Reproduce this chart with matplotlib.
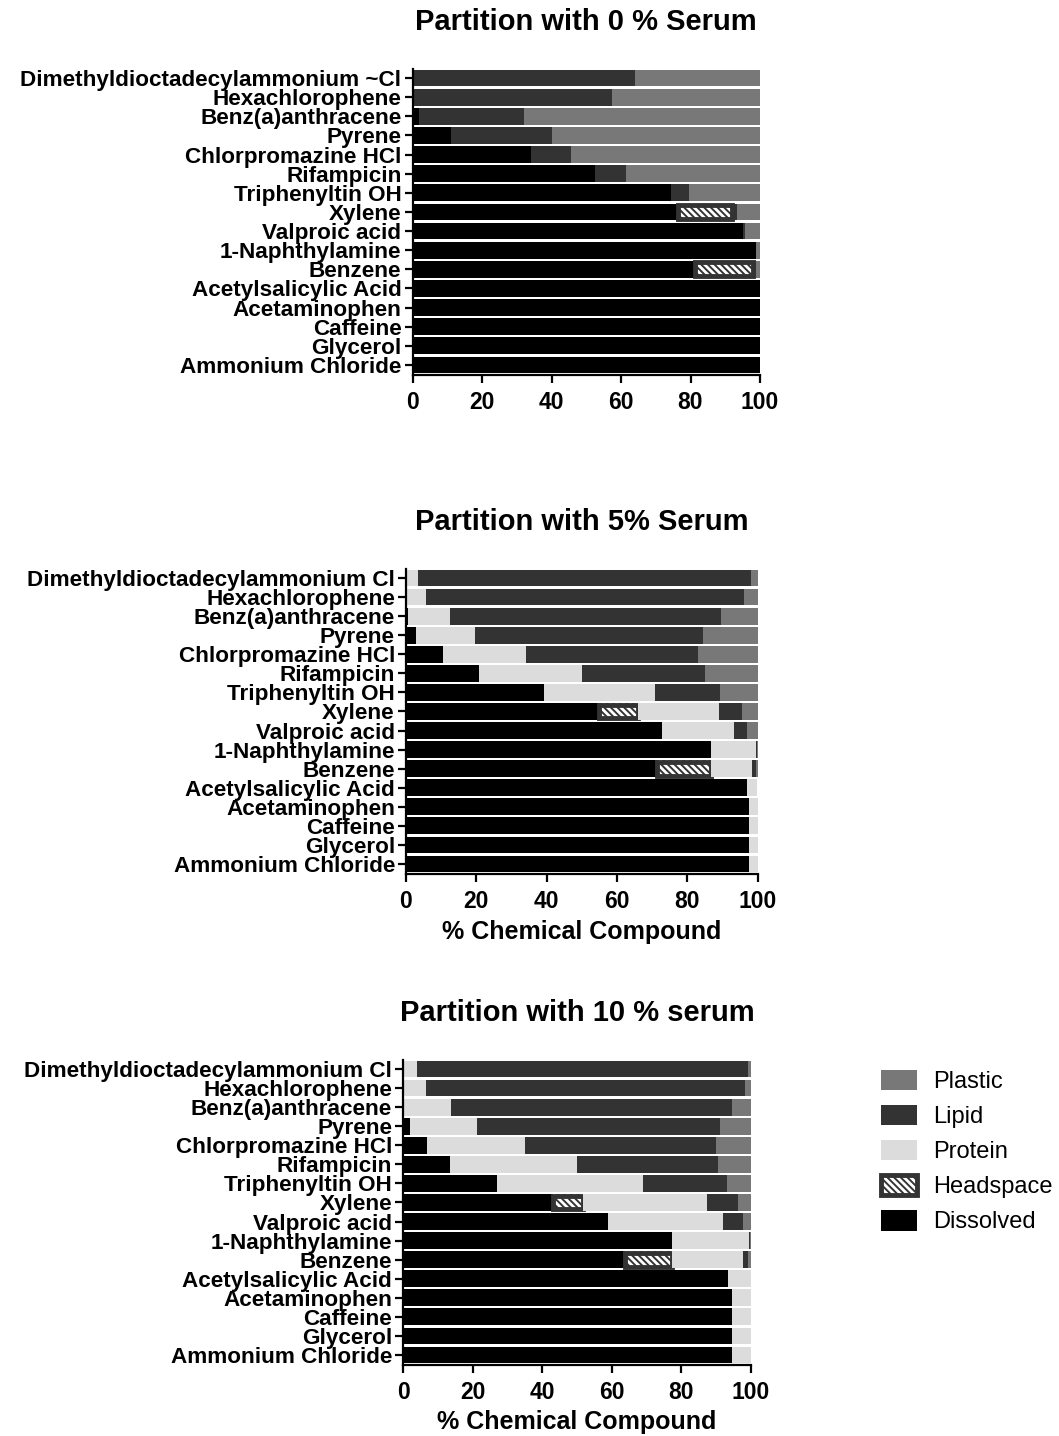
import matplotlib
matplotlib.use("Agg")
import matplotlib.pyplot as plt
from matplotlib.patches import Patch
import numpy as np

plt.rcParams['font.family'] = ['Liberation Sans', 'DejaVu Sans']
plt.rcParams['hatch.linewidth'] = 2.0

# Compounds, listed top to bottom
compounds_0 = ["Dimethyldioctadecylammonium ~Cl", "Hexachlorophene", "Benz(a)anthracene",
               "Pyrene", "Chlorpromazine HCl", "Rifampicin", "Triphenyltin OH", "Xylene",
               "Valproic acid", "1-Naphthylamine", "Benzene", "Acetylsalicylic Acid",
               "Acetaminophen", "Caffeine", "Glycerol", "Ammonium Chloride"]
compounds = ["Dimethyldioctadecylammonium Cl"] + compounds_0[1:]

# Partition (% of compound) with 0 % serum
dissolved_0 = [0.5, 0.5, 2.0, 11.0, 34.0, 52.5, 74.5, 76.5, 95.0, 98.8, 81.3, 100, 100, 100, 100, 100]
headspace_0 = [0, 0, 0, 0, 0, 0, 0, 15.5, 0, 0, 16.7, 0, 0, 0, 0, 0]
protein_0   = [0] * 16
lipid_0     = [63.5, 57.0, 30.0, 29.0, 11.5, 9.0, 5.0, 1.5, 0.7, 0.0, 0.8, 0, 0, 0, 0, 0]
plastic_0   = [36.0, 42.5, 68.0, 60.0, 54.5, 38.5, 20.5, 6.5, 4.3, 1.2, 1.2, 0, 0, 0, 0, 0]

# Partition with 5 % serum
dissolved_5 = [0.0, 0.0, 0.5, 2.8, 10.4, 20.8, 39.4, 55.0, 72.7, 86.8, 71.5, 97.1, 97.6, 97.6, 97.6, 97.6]
headspace_5 = [0, 0, 0, 0, 0, 0, 0, 10.9, 0, 0, 15.3, 0, 0, 0, 0, 0]
protein_5   = [3.3, 5.6, 12.0, 16.8, 23.6, 29.2, 31.3, 23.2, 20.7, 12.8, 11.5, 2.9, 2.4, 2.4, 2.4, 2.4]
lipid_5     = [94.8, 90.7, 77.1, 64.8, 49.2, 35.0, 18.6, 6.4, 3.7, 0.2, 1.2, 0, 0, 0, 0, 0]
plastic_5   = [1.9, 3.7, 10.4, 15.6, 16.8, 15.0, 10.7, 4.5, 2.9, 0.2, 0.5, 0, 0, 0, 0, 0]

# Partition with 10 % serum
dissolved_10 = [0.0, 0.0, 0.3, 1.9, 6.7, 13.4, 27.0, 43.1, 59.0, 77.2, 63.8, 93.5, 94.4, 94.4, 94.4, 94.4]
headspace_10 = [0, 0, 0, 0, 0, 0, 0, 8.7, 0, 0, 13.6, 0, 0, 0, 0, 0]
protein_10   = [3.8, 6.4, 13.4, 19.2, 28.3, 36.5, 42.0, 35.5, 33.0, 22.2, 20.2, 6.5, 5.6, 5.6, 5.6, 5.6]
lipid_10     = [95.4, 91.9, 80.7, 70.0, 54.8, 40.7, 24.0, 9.1, 5.8, 0.3, 1.6, 0, 0, 0, 0, 0]
plastic_10   = [0.8, 1.7, 5.6, 8.9, 10.2, 9.4, 7.0, 3.6, 2.2, 0.3, 0.8, 0, 0, 0, 0, 0]

x_ticks = [0, 20, 40, 60, 80, 100]

C_DIS, C_LIP, C_PRO, C_PLA = "#000000", "#333333", "#dcdcdc", "#787878"
HATCH = "\\" * 5

panels = [
    dict(rect=[412.5, 68.5, 760, 374.5], title="Partition with 0 % Serum", title_y=22,
         labels=compounds_0, data=(dissolved_0, headspace_0, protein_0, lipid_0, plastic_0), xlabel=None),
    dict(rect=[406, 568.5, 757.5, 873.5], title="Partition with 5% Serum", title_y=522,
         labels=compounds, data=(dissolved_5, headspace_5, protein_5, lipid_5, plastic_5), xlabel=932),
    dict(rect=[403.3, 1059.5, 751, 1364.5], title="Partition with 10 % serum", title_y=1013,
         labels=compounds, data=(dissolved_10, headspace_10, protein_10, lipid_10, plastic_10), xlabel=1422),
]

W, H = 1059, 1436
fig = plt.figure(figsize=(W / 100, H / 100), dpi=100)

for p in panels:
    x0, y0, x1, y1 = p["rect"]
    ax = fig.add_axes([x0 / W, 1 - y1 / H, (x1 - x0) / W, (y1 - y0) / H])
    dis, hs, pro, lip, pla = [np.array(v, dtype=float) for v in p["data"]]
    y = np.arange(len(p["labels"]))
    h = 0.88
    left = np.zeros(len(y))
    ax.barh(y, dis, left=left, height=h, color=C_DIS, linewidth=0)
    left += dis
    # headspace: white stripes inside a dark box
    mask = hs > 0
    ax.barh(y[mask], hs[mask], left=left[mask], height=h, facecolor=C_LIP,
            edgecolor="white", hatch=HATCH, linewidth=0)
    ax.barh(y[mask], hs[mask], left=left[mask], height=h * 0.82, fill=False,
            edgecolor=C_LIP, linewidth=3.5)
    left += hs
    ax.barh(y, pro, left=left, height=h, color=C_PRO, linewidth=0)
    left += pro
    ax.barh(y, lip, left=left, height=h, color=C_LIP, linewidth=0)
    left += lip
    ax.barh(y, pla, left=left, height=h, color=C_PLA, linewidth=0)

    ax.set_xlim(0, 100)
    ax.set_ylim(len(y) - 0.5, -0.5)
    ax.set_yticks(y)
    ax.set_yticklabels(p["labels"], fontsize=16.2, fontweight="bold")
    ax.set_xticks(x_ticks)
    ax.set_xticklabels([str(t) for t in x_ticks], fontsize=16.5, fontweight="bold")
    for s in ("top", "right"):
        ax.spines[s].set_visible(False)
    for s in ("left", "bottom"):
        ax.spines[s].set_linewidth(1.6)
    ax.tick_params(axis="both", length=6, width=1.6, direction="out")
    ax.tick_params(axis="y", pad=2)
    ax.tick_params(axis="x", pad=6)

    fig.text((x0 + x1) / 2 / W, 1 - p["title_y"] / H, p["title"], ha="center", va="center",
             fontsize=21, fontweight="bold")
    if p["xlabel"] is not None:
        fig.text((x0 + x1) / 2 / W, 1 - p["xlabel"] / H, "% Chemical Compound", ha="center",
                 va="center", fontsize=18, fontweight="bold")

handles = [
    Patch(facecolor=C_PLA, edgecolor="none"),
    Patch(facecolor=C_LIP, edgecolor="none"),
    Patch(facecolor=C_PRO, edgecolor="none"),
    (Patch(facecolor=C_LIP, edgecolor="white", hatch=HATCH, linewidth=0),
     Patch(fill=False, edgecolor=C_LIP, linewidth=3.5)),
    Patch(facecolor=C_DIS, edgecolor="none"),
]
fig.legend(handles, ["Plastic", "Lipid", "Protein", "Headspace", "Dissolved"],
           loc="upper left", bbox_to_anchor=(876 / W, 1 - 1065 / H), frameon=False,
           fontsize=17, handlelength=1.55, handleheight=0.95, labelspacing=0.5,
           handletextpad=0.65, borderaxespad=0, borderpad=0.2)

fig.savefig("out.png", dpi=100)
